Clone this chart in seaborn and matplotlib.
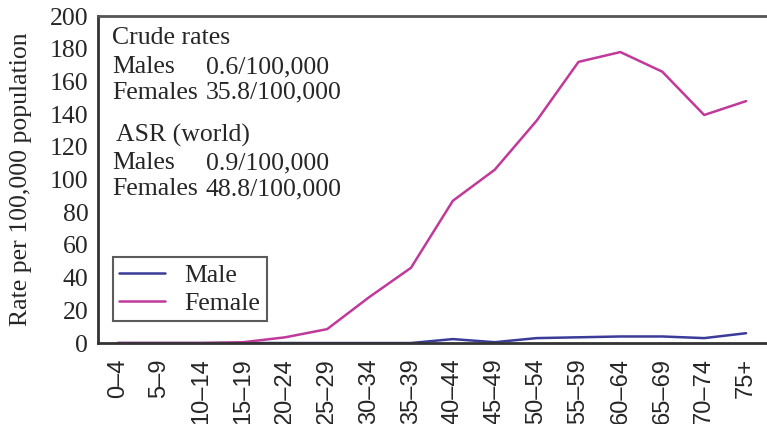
import matplotlib
matplotlib.use("Agg")
import matplotlib.pyplot as plt
import numpy as np
import pandas as pd
import seaborn as sns

# Age groups and rates per 100,000
age_groups = ["0–4", "5–9", "10–14", "15–19", "20–24", "25–29", "30–34", "35–39",
              "40–44", "45–49", "50–54", "55–59", "60–64", "65–69", "70–74", "75+"]
male_rates = [0, 0, 0, 0, 0, 0, 0, 0, 2.4, 0.5, 3, 3.5, 4, 4, 3, 6]
female_rates = [0, 0, 0, 0.5, 3.5, 8.5, 28, 46, 87, 106, 136, 172, 178, 166, 139.5, 148]

crude_lines = [("Males", "0.6/100,000"), ("Females", "35.8/100,000")]
asr_lines = [("Males", "0.9/100,000"), ("Females", "48.8/100,000")]

df = pd.DataFrame({
    "idx": list(range(len(age_groups))) * 2,
    "rate": male_rates + female_rates,
    "sex": ["Male"] * len(age_groups) + ["Female"] * len(age_groups),
})

sns.set_style("white")
serif = ["Liberation Serif", "DejaVu Serif"]
plt.rcParams["font.family"] = serif

fig = plt.figure(figsize=(7.67, 4.24), dpi=100)
ax = fig.add_axes([0.1278, 0.191, 0.8722, 0.771])

sns.lineplot(data=df, x="idx", y="rate", hue="sex",
             palette={"Male": "#3b3b99", "Female": "#c0399b"},
             linewidth=1.8, ax=ax)

ax.set_xlim(-0.47, 15.5)
ax.set_ylim(0, 200)
ax.set_yticks(range(0, 201, 20))
ax.tick_params(axis="y", length=0, labelsize=18.5, pad=7)

ax.set_xticks(range(len(age_groups)))
ax.set_xticklabels(age_groups, rotation=90, family=["Liberation Sans", "DejaVu Sans"],
                   fontsize=17)
ax.set_xticks(np.arange(0.5, len(age_groups) - 0.5, 1), minor=True)
ax.tick_params(axis="x", which="major", length=0, pad=11)
ax.tick_params(axis="x", which="minor", length=4, width=1.5, color="#333333", direction="out")

ax.set_xlabel("")
ax.set_ylabel("Rate per 100,000 population", fontsize=18.5, labelpad=13)

for side in ["left", "bottom", "top"]:
    ax.spines[side].set_linewidth(2)
    ax.spines[side].set_color("#333333")
ax.spines["top"].set_color("#555555")
ax.spines["right"].set_visible(False)

# Text block of rates
fs = 18.5
ax.text(0.021, 0.933, "Crude rates", transform=ax.transAxes, fontsize=fs, va="center")
for (lab, val), y in zip(crude_lines, [0.844, 0.765]):
    ax.text(0.021, y, lab, transform=ax.transAxes, fontsize=fs, va="center")
    ax.text(0.161, y, val, transform=ax.transAxes, fontsize=fs, va="center")
ax.text(0.027, 0.636, "ASR (world)", transform=ax.transAxes, fontsize=fs, va="center")
for (lab, val), y in zip(asr_lines, [0.550, 0.471]):
    ax.text(0.021, y, lab, transform=ax.transAxes, fontsize=fs, va="center")
    ax.text(0.161, y, val, transform=ax.transAxes, fontsize=fs, va="center")

leg = ax.legend(loc="lower left", bbox_to_anchor=(0.022, 0.067), borderaxespad=0,
                fontsize=18.5, frameon=True, fancybox=False, edgecolor="#333333",
                handlelength=1.8, handletextpad=0.75, borderpad=0.25, labelspacing=0.2)
leg.get_frame().set_linewidth(1.5)

fig.savefig("out.png", dpi=100)
